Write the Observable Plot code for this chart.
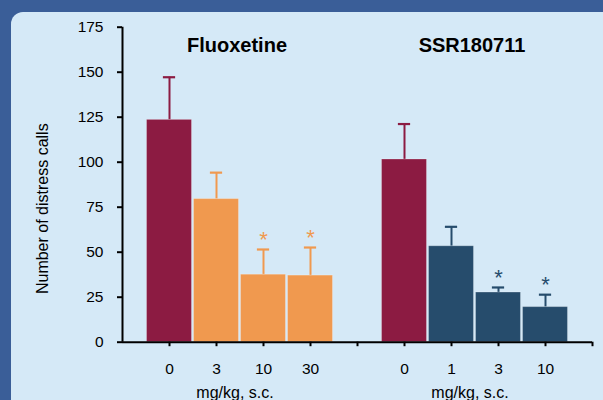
<!DOCTYPE html>
<html>
<head>
<meta charset="utf-8">
<script src="https://cdn.jsdelivr.net/npm/d3@7"></script>
<script src="https://cdn.jsdelivr.net/npm/@observablehq/plot@0.6"></script>
<style>
  html, body { margin: 0; padding: 0; }
  body { width: 603px; height: 400px; background: #3a5e98; position: relative; overflow: hidden;
         font-family: "Liberation Sans", Arial, Helvetica, sans-serif; }
  #panel { position: absolute; left: 11px; top: 12px; width: 600px; height: 400px;
           background: #d5e9f7; border-top-left-radius: 12px; }
  #chart { position: absolute; left: 0; top: 0; }
  #chart svg { background: transparent; }
</style>
</head>
<body>
<div id="panel"></div>
<div id="chart"></div>
<script>
// ---- data ----
const groups = ["Fluoxetine", "SSR180711"];
const group = ["Fluoxetine", "Fluoxetine", "Fluoxetine", "Fluoxetine", "SSR180711", "SSR180711", "SSR180711", "SSR180711"];
const dose = ["0", "3", "10", "30", "0", "1", "3", "10"];
const calls = [123.5, 79.5, 37.5, 37, 101.5, 53.3, 27.6, 19.5];
const sem = [23.7, 14.7, 14, 15.6, 19.7, 10.8, 2.8, 6.9];
const significant = [false, false, true, true, false, false, true, true];
const yTicks = [0, 25, 50, 75, 100, 125, 150, 175];
const xLabel = "mg/kg, s.c.";
const yLabel = "Number of distress calls";

const colors = {vehicle: "#8c1b42", Fluoxetine: "#f0994f", SSR180711: "#264c6c"};

// build table: position = group index * 5 + index within group (one empty slot between groups)
const rows = dose.map((d, i) => {
  const g = groups.indexOf(group[i]);
  const within = group.slice(0, i).filter(x => x === group[i]).length;
  const pos = g * 5 + within;
  return {group: group[i], dose: d, calls: calls[i], sem: sem[i], sig: significant[i], pos,
          color: d === "0" ? colors.vehicle : colors[group[i]]};
});
const labelAt = new Map(rows.map(r => [r.pos, r.dose]));
const groupCenters = groups.map(g => {
  const ps = rows.filter(r => r.group === g).map(r => r.pos);
  return {group: g, x: d3.mean(ps)};
});

const half = 0.478;
const cap = 0.13;

const chart = Plot.plot({
  width: 603,
  height: 400,
  marginLeft: 122,
  marginRight: 11,
  marginTop: 26.7,
  marginBottom: 58.3,
  style: {fontFamily: "'Liberation Sans', Arial, Helvetica, sans-serif", background: "transparent", color: "#000"},
  x: {type: "linear", domain: [-1, 9], axis: null},
  y: {domain: [0, 175], axis: null},
  marks: [
    // error bars
    Plot.ruleX(rows, {x: "pos", y1: "calls", y2: d => d.calls + d.sem, stroke: "color", strokeWidth: 2}),
    Plot.ruleY(rows, {y: d => d.calls + d.sem, x1: d => d.pos - cap, x2: d => d.pos + cap, stroke: "color", strokeWidth: 2.2}),
    // bars
    Plot.rectY(rows, {x1: d => d.pos - half, x2: d => d.pos + half, y1: 0, y2: "calls", fill: "color",
                      stroke: "#ffffff", strokeOpacity: 0.25, strokeWidth: 1}),
    // significance stars
    Plot.text(rows.filter(d => d.sig), {x: "pos", y: d => d.calls + d.sem, text: () => "*", fill: "color",
                      fontSize: 22, dy: -10}),
    // axes lines
    Plot.ruleX([-1], {y1: 0, y2: 175, stroke: "#000", strokeWidth: 2}),
    Plot.ruleY([0], {x1: -1, x2: 9, stroke: "#000", strokeWidth: 2}),
    Plot.axisY({ticks: yTicks, tickSize: 5, tickPadding: 14, fontSize: 15.5, strokeWidth: 2, label: null, tickFormat: d => d}),
    Plot.axisX({ticks: d3.range(0, 10), tickSize: 4.5, tickPadding: 16, fontSize: 15.5, strokeWidth: 2, label: null,
                tickFormat: p => labelAt.get(p) ?? ""}),
    // titles
    Plot.text(groupCenters, {x: "x", text: "group", frameAnchor: "top", dy: 11, dx: -3,
                             fontSize: 20, fontWeight: "bold"}),
    Plot.text(groupCenters, {x: "x", text: () => xLabel, frameAnchor: "bottom", dy: 56, dx: -5, fontSize: 16}),
    Plot.text([yLabel], {text: d => d, frameAnchor: "left", textAnchor: "middle", lineAnchor: "middle",
                         dx: -80, dy: 24, rotate: -90, fontSize: 16})
  ]
});
document.getElementById("chart").appendChild(chart);
</script>
</body>
</html>
